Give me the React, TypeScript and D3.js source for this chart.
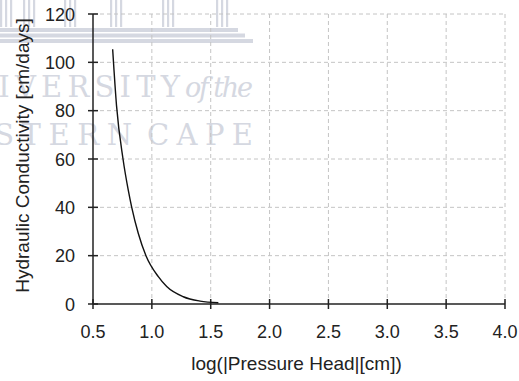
import React from "react";
import * as d3 from "d3";

const logHead = [0.667, 0.70, 0.755, 0.80, 0.829, 0.885, 0.95, 1.055, 1.126, 1.267, 1.41, 1.565];
const conductivity = [105.4, 82, 60, 47, 40, 29.2, 20, 11.3, 7.2, 3.0, 1.2, 0.5];
const xTicks = [0.5, 1.0, 1.5, 2.0, 2.5, 3.0, 3.5, 4.0];
const yTicks = [0, 20, 40, 60, 80, 100, 120];
const xTitle = "log(|Pressure Head|[cm])";
const yTitle = "Hydraulic Conductivity [cm/days]";

const W = 519;
const H = 381;
const font = "'Liberation Sans', Arial, sans-serif";
const serif = "'DejaVu Serif', 'Liberation Serif', serif";
const wm = "#d5d8e1";

export default function App() {
  const x = d3.scaleLinear().domain([0.5, 4.0]).range([93, 505]);
  const y = d3.scaleLinear().domain([0, 120]).range([304, 14]);
  const pts = logHead.map((v, i) => [v, conductivity[i]] as [number, number]);
  const line = d3
    .line<[number, number]>()
    .x((d) => x(d[0]))
    .y((d) => y(d[1]))
    .curve(d3.curveMonotoneX);

  const colX = [6, 29, 70, 116, 168, 222];
  const stripes = [
    { y: 28, w: 238 },
    { y: 33.5, w: 245 },
    { y: 39, w: 253 },
  ];

  return (
    <svg
      width={W}
      height={H}
      style={{ position: "fixed", left: 0, top: 0, background: "#fff" }}
    >
      {/* watermark */}
      <g>
        {colX.map((cx, i) => (
          <g key={i}>
            {[-5, 0, 5].map((o) => (
              <rect key={o} x={cx + o - 1} y={0} width={2.2} height={27} fill={wm} />
            ))}
          </g>
        ))}
        {stripes.map((s, i) => (
          <rect key={i} x={0} y={s.y} width={s.w} height={4} fill={wm} />
        ))}
        <text x={-62} y={97} fontFamily={serif} fontSize={29} fill={wm} textLength={242} lengthAdjust="spacing">
          UNIVERSITY
        </text>
        <text x={185} y={97} fontFamily={serif} fontSize={27} fontStyle="italic" fill={wm} textLength={68} lengthAdjust="spacing">
          of the
        </text>
        <text x={-72} y={145} fontFamily={serif} fontSize={29} fill={wm} textLength={204} lengthAdjust="spacing">
          WESTERN
        </text>
        <text x={147} y={145} fontFamily={serif} fontSize={29} fill={wm} textLength={106} lengthAdjust="spacing">
          CAPE
        </text>
      </g>

      {/* grid */}
      <g stroke="#c4c4c4" strokeWidth={1} strokeDasharray="4,3">
        {xTicks.slice(1).map((t) => (
          <line key={"gx" + t} x1={x(t)} x2={x(t)} y1={y(120)} y2={y(0)} />
        ))}
        {yTicks.slice(1).map((t) => (
          <line key={"gy" + t} x1={x(0.5)} x2={x(4.0)} y1={y(t)} y2={y(t)} />
        ))}
      </g>

      {/* axes */}
      <g stroke="#222" strokeWidth={1.5}>
        <line x1={x(0.5)} x2={x(0.5)} y1={y(120)} y2={y(0)} />
        <line x1={x(0.5)} x2={x(4.0)} y1={y(0)} y2={y(0)} />
        {yTicks.map((t) => (
          <line key={"ty" + t} x1={x(0.5) - 5} x2={x(0.5) + 5} y1={y(t)} y2={y(t)} />
        ))}
        {xTicks.map((t) => (
          <line key={"tx" + t} x1={x(t)} x2={x(t)} y1={y(0) - 5} y2={y(0) + 5} />
        ))}
      </g>

      {/* curve */}
      <path d={line(pts) ?? ""} fill="none" stroke="#111" strokeWidth={1.4} />

      {/* tick labels */}
      <g fontFamily={font} fontSize={18} fill="#222">
        {yTicks.map((t) => (
          <text key={"ly" + t} x={75} y={y(t) + 6.5} textAnchor="end">
            {t}
          </text>
        ))}
        {xTicks.map((t) => (
          <text key={"lx" + t} x={x(t)} y={338} textAnchor="middle">
            {t.toFixed(1)}
          </text>
        ))}
      </g>

      {/* titles */}
      <text x={296.5} y={370} textAnchor="middle" fontFamily={font} fontSize={19} fill="#222">
        {xTitle}
      </text>
      <text
        transform={`translate(29,155.5) rotate(-90)`}
        textAnchor="middle"
        fontFamily={font}
        fontSize={19}
        fill="#222"
      >
        {yTitle}
      </text>
    </svg>
  );
}
